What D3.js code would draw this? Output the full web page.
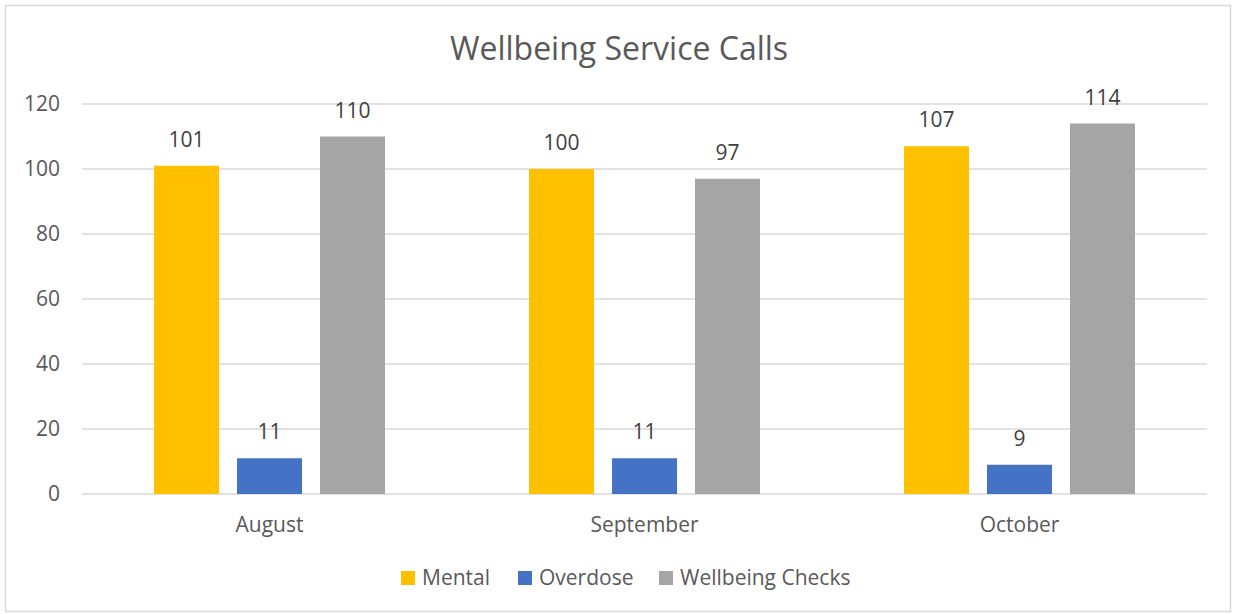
<!DOCTYPE html>
<html>
<head>
<meta charset="utf-8">
<script src="https://cdn.jsdelivr.net/npm/d3@7"></script>
<style>
  body { margin: 0; background: #fff; }
  text { font-family: "Open Sans", sans-serif; }
</style>
</head>
<body>
<script>
(function() {

    // Data
    var months = ['August', 'September', 'October'];
    var seriesNames = ['Mental', 'Overdose', 'Wellbeing Checks'];
    var mental = [101, 100, 107];
    var overdose = [11, 11, 9];
    var wellbeing = [110, 97, 114];
    var yTicks = [0, 20, 40, 60, 80, 100, 120];
    var colors = ['#FFC000', '#4472C4', '#A5A5A5'];

    var values = [mental, overdose, wellbeing];

    // Dimensions
    var W = 1235, H = 614;
    var margin = {top: 104, right: 28, bottom: 120, left: 82},
        width = W - margin.left - margin.right,
        height = H - margin.top - margin.bottom;

    var svg = d3.select('body').append('svg')
        .attr('width', W)
        .attr('height', H);

    // Chart border
    svg.append('rect')
        .attr('x', 5.5).attr('y', 5.5)
        .attr('width', 1225).attr('height', 606)
        .attr('fill', '#fff')
        .attr('stroke', '#d9d9d9')
        .attr('stroke-width', 1.5);

    // Title
    svg.append('text')
        .attr('x', 619)
        .attr('y', 60)
        .attr('text-anchor', 'middle')
        .attr('fill', '#595959')
        .style('font-size', '32px')
        .text('Wellbeing Service Calls');

    var g = svg.append('g')
        .attr('transform', 'translate(' + margin.left + ',' + margin.top + ')');

    // Scales
    var x0 = d3.scaleBand().domain(months).range([0, width])
        .paddingInner(0.384).paddingOuter(0.192);
    var x1 = d3.scaleBand().domain(seriesNames).range([0, x0.bandwidth()])
        .paddingInner(18 / 83);
    var y = d3.scaleLinear().domain([0, 120]).range([height, 0]);

    // Gridlines
    g.append('g')
        .selectAll('line')
        .data(yTicks)
        .enter().append('line')
        .attr('x1', 0).attr('x2', width)
        .attr('y1', function(d) { return y(d); })
        .attr('y2', function(d) { return y(d); })
        .attr('stroke', '#d9d9d9')
        .attr('stroke-width', 1.3);

    // Y axis
    var yAxis = g.append('g')
        .call(d3.axisLeft(y).tickValues(yTicks).tickSize(0).tickPadding(22));
    yAxis.select('.domain').remove();
    yAxis.selectAll('text')
        .attr('fill', '#595959')
        .style('font-size', '21px');

    // X axis
    var xAxis = g.append('g')
        .attr('transform', 'translate(0,' + height + ')')
        .call(d3.axisBottom(x0).tickSize(0).tickPadding(23));
    xAxis.select('.domain').remove();
    xAxis.selectAll('text')
        .attr('fill', '#595959')
        .style('font-size', '21px');

    // Bars
    var groups = g.selectAll('.month')
        .data(months)
        .enter().append('g')
        .attr('class', 'month')
        .attr('transform', function(d) { return 'translate(' + x0(d) + ',0)'; });

    groups.selectAll('rect')
        .data(function(m, i) {
            return seriesNames.map(function(s, j) { return {s: s, j: j, v: values[j][i]}; });
        })
        .enter().append('rect')
        .attr('x', function(d) { return x1(d.s); })
        .attr('y', function(d) { return y(d.v); })
        .attr('width', x1.bandwidth())
        .attr('height', function(d) { return height - y(d.v); })
        .attr('fill', function(d) { return colors[d.j]; });

    // Data labels
    groups.selectAll('.lbl')
        .data(function(m, i) {
            return seriesNames.map(function(s, j) { return {s: s, j: j, v: values[j][i]}; });
        })
        .enter().append('text')
        .attr('class', 'lbl')
        .attr('x', function(d) { return x1(d.s) + x1.bandwidth() / 2; })
        .attr('y', function(d) { return y(d.v) - 19; })
        .attr('text-anchor', 'middle')
        .attr('fill', '#404040')
        .style('font-size', '21px')
        .text(function(d) { return d.v; });

    // Legend
    var legendX = [401, 518, 659];
    var legend = svg.append('g')
        .selectAll('g')
        .data(seriesNames)
        .enter().append('g')
        .attr('transform', function(d, i) { return 'translate(' + legendX[i] + ',571)'; });

    legend.append('rect')
        .attr('width', 14).attr('height', 14)
        .attr('fill', function(d, i) { return colors[i]; });

    legend.append('text')
        .attr('x', 21)
        .attr('y', 14)
        .attr('fill', '#595959')
        .style('font-size', '21px')
        .text(function(d) { return d; });

})();
</script>
</body>
</html>
